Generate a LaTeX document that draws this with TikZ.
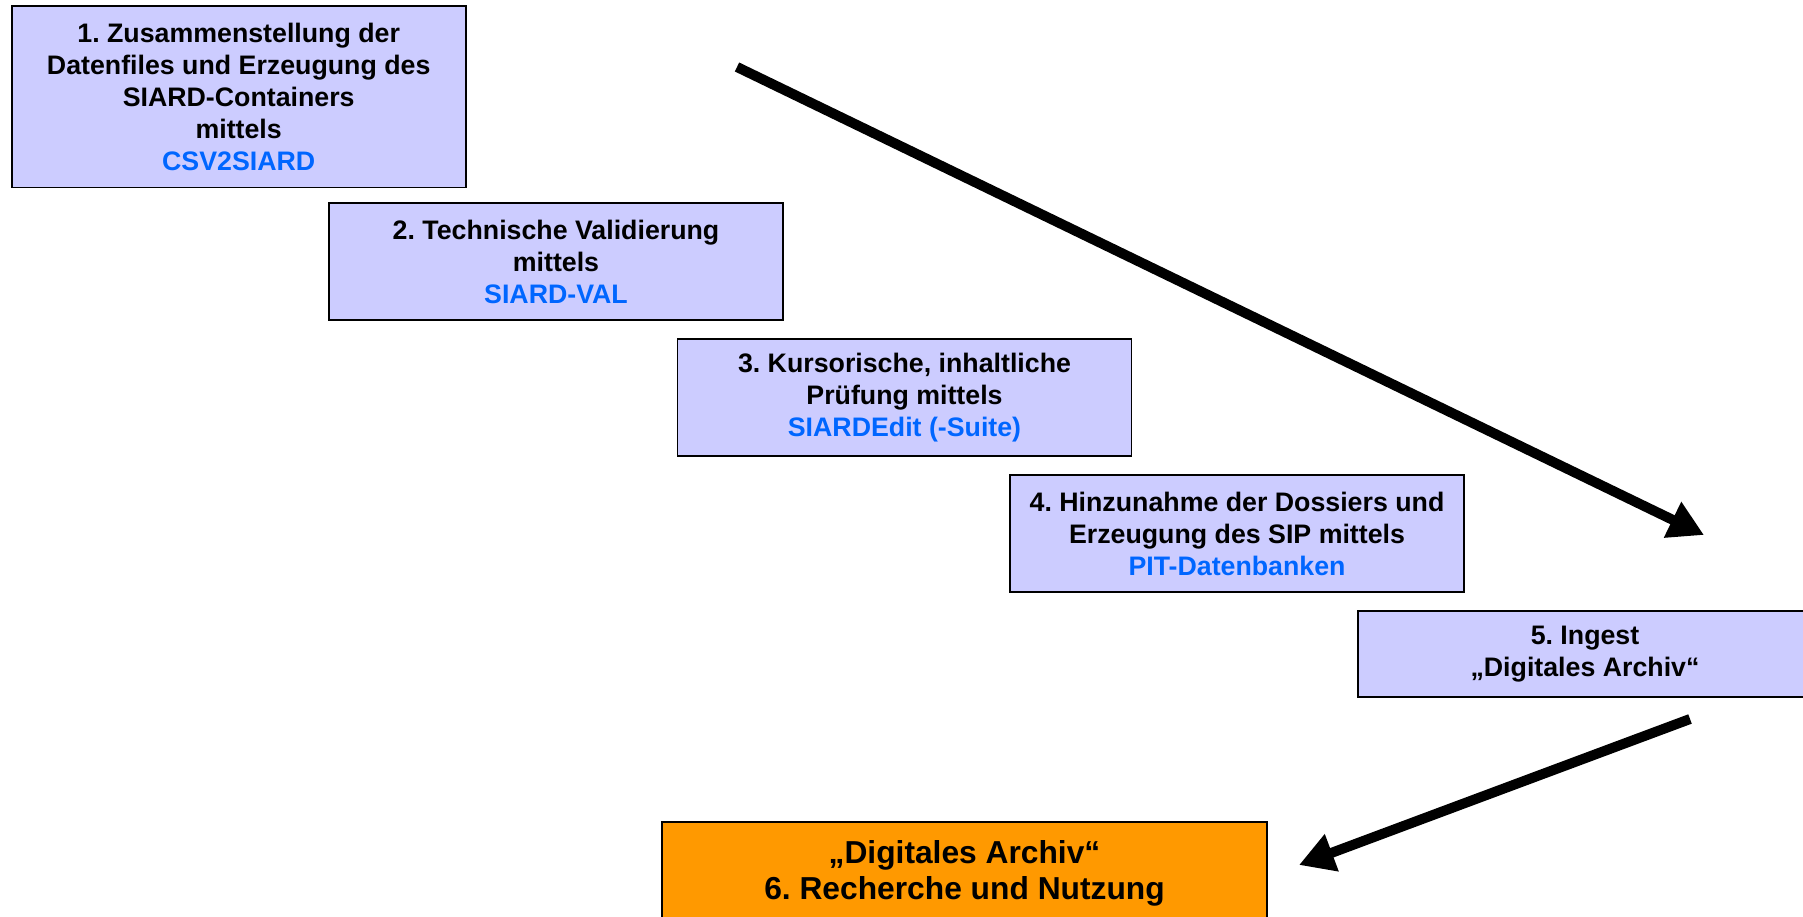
\documentclass[tikz,border=0pt]{standalone}
\usepackage{fontspec}
\setmainfont{Liberation Sans}
\usetikzlibrary{arrows.meta}
\frenchspacing

\definecolor{boxlila}{RGB}{204,204,255}
\definecolor{toolblau}{RGB}{0,102,255}
\definecolor{archivorange}{RGB}{255,153,0}

\tikzset{
    schritt/.style={draw=black, line width=0.7pt, fill=boxlila, align=center,
        minimum width=181.6pt, minimum height=46.8pt, inner sep=0pt,
        font=\bfseries\fontsize{10.7}{12.8}\selectfont},
    pfeil/.style={line width=4pt, -{Triangle[length=14pt,width=15pt]}}
}
\newcommand{\tool}[1]{{\color{toolblau}#1}}

\begin{document}
\begin{tikzpicture}[x=0.4pt, y=-0.4pt]
    \useasboundingbox (0,0) rectangle (1803,917);

    % Arbeitsschritte
    \node[schritt, minimum height=72.7pt] (s1) at (238.7,96.6)
        {1. Zusammenstellung der\\Datenfiles und Erzeugung des\\SIARD-Containers\\mittels\\\tool{CSV2SIARD}};
    \node[schritt] (s2) at (556,261.7) {2. Technische Validierung\\mittels\\\tool{SIARD-VAL}};
    \node[schritt] (s3) at (904.5,397.7) {3. Kursorische, inhaltliche\\Prüfung mittels\\\tool{SIARDEdit (-Suite)}};
    \node[schritt] (s4) at (1237,533.5) {4. Hinzunahme der Dossiers und\\Erzeugung des SIP mittels\\\tool{PIT-Datenbanken}};
    \node[schritt, minimum height=34.4pt] (s5) at (1585,654) {5. Ingest\\„Digitales Archiv“};

    % Nutzung
    \node[schritt, fill=archivorange, minimum width=242pt, minimum height=41pt,
        font=\bfseries\fontsize{12.7}{14.4}\selectfont] (s6) at (964.5,873)
        {„Digitales Archiv“\\6. Recherche und Nutzung};

    % Pfeile
    \coordinate (a1) at (737,67);
    \coordinate (b1) at (1704,535);
    \coordinate (a2) at (1690,719);
    \coordinate (b2) at (1299,865);
    \draw[pfeil] (a1) -- (b1);
    \draw[pfeil] (a2) -- (b2);
\end{tikzpicture}
\end{document}
